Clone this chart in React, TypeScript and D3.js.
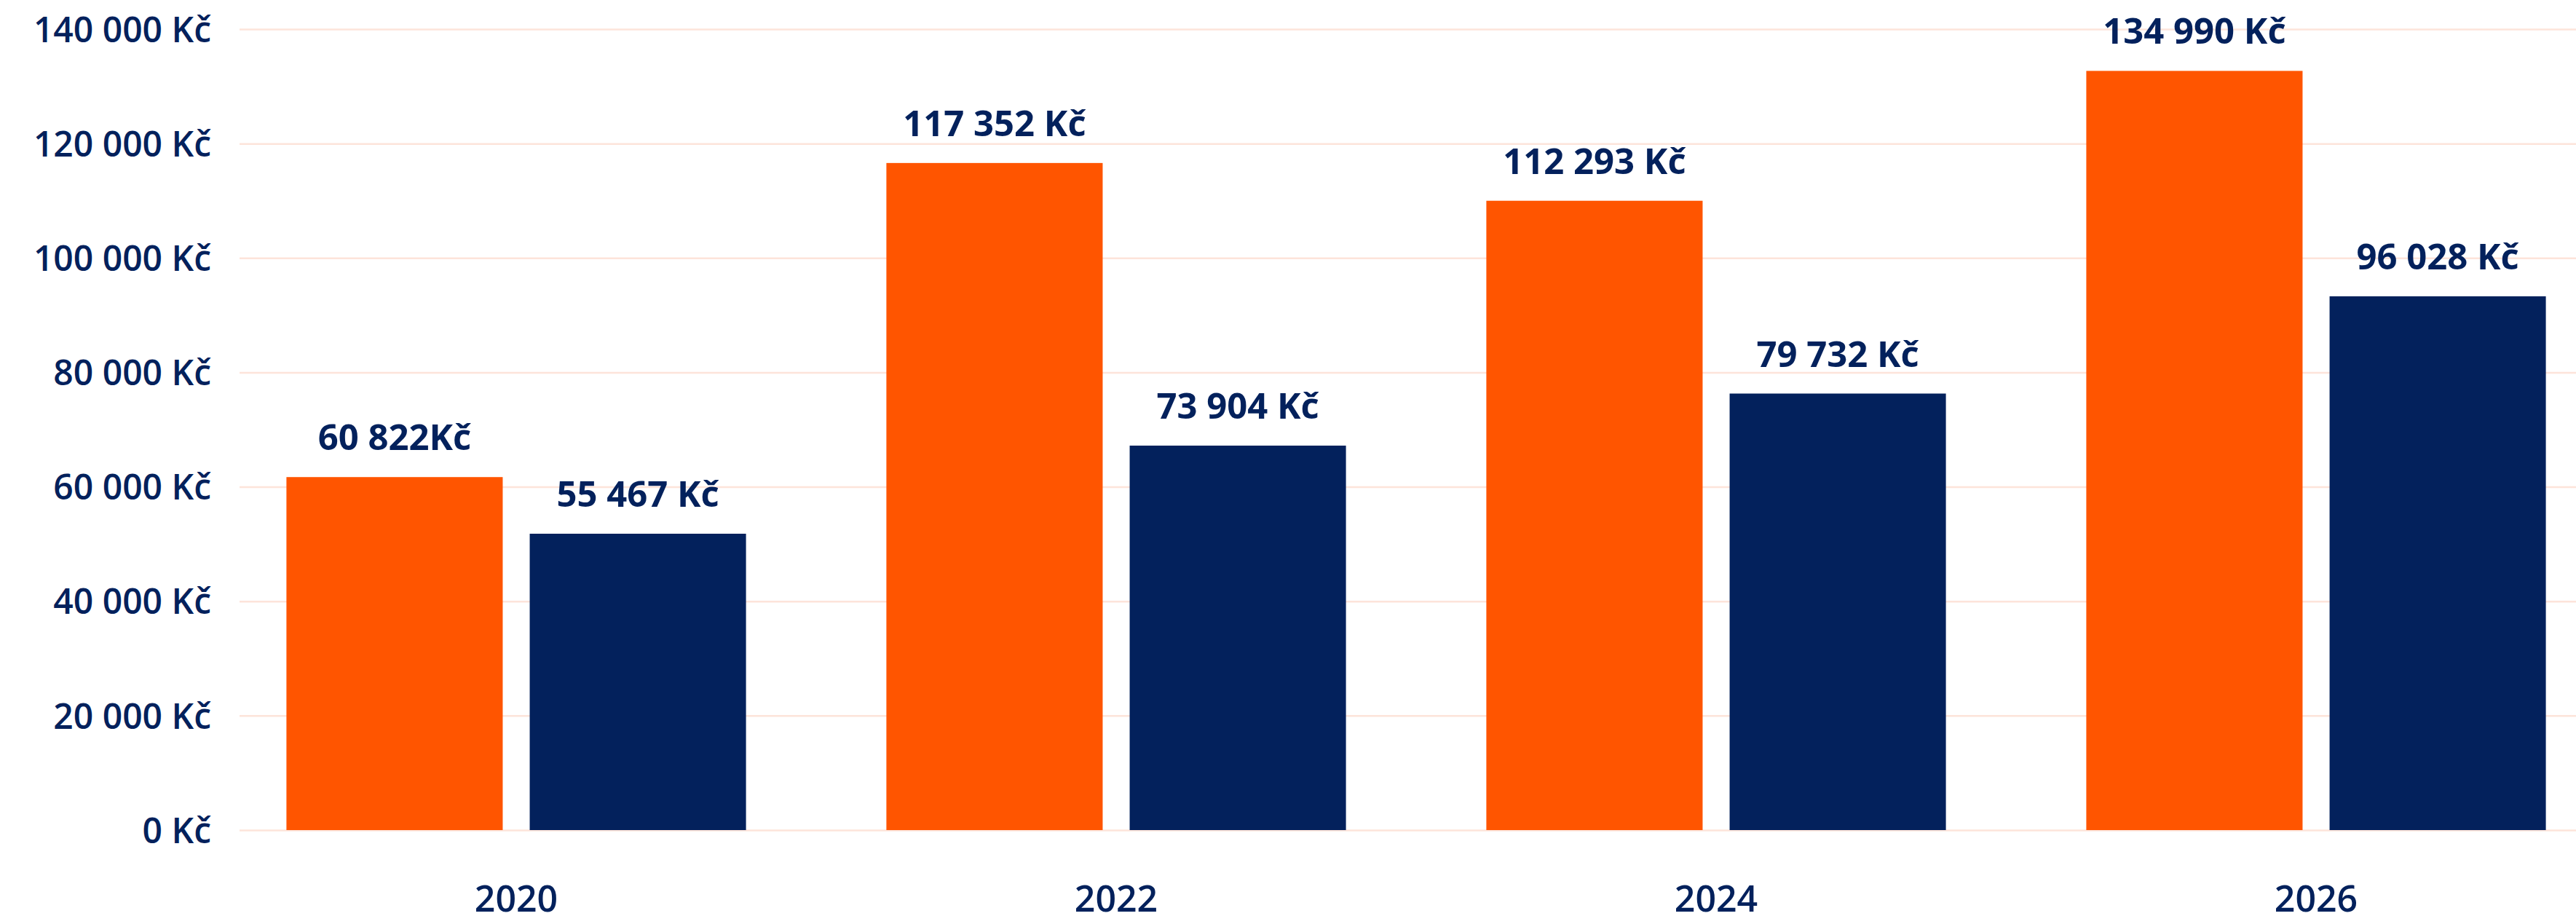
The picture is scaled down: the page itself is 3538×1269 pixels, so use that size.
import React, { useRef, useEffect } from "react";
import { select, scaleBand, scaleLinear, axisLeft } from "d3";

const years = ["2020", "2022", "2024", "2026"];
const series = ["orange", "navy"];
// bar heights as drawn in the picture
const orangeValues = [61700, 116600, 110000, 132700];
const navyValues = [51800, 67200, 76300, 93300];
// labels as printed above the bars
const orangeLabels = ["60 822Kč", "117 352 Kč", "112 293 Kč", "134 990 Kč"];
const navyLabels = ["55 467 Kč", "73 904 Kč", "79 732 Kč", "96 028 Kč"];
const yTicks = [0, 20000, 40000, 60000, 80000, 100000, 120000, 140000];
const yTickLabels = [
  "0 Kč",
  "20 000 Kč",
  "40 000 Kč",
  "60 000 Kč",
  "80 000 Kč",
  "100 000 Kč",
  "120 000 Kč",
  "140 000 Kč",
];

const W = 3538;
const H = 1269;
const TEXT = "#03215c";
const COLORS = { orange: "#ff5500", navy: "#03215c" };
const FONT = "'Open Sans', sans-serif";

const App = () => {
  const svgRef = useRef(null);

  useEffect(() => {
    const svg = select(svgRef.current);
    svg.selectAll("*").remove();

    const yScale = scaleLinear().domain([0, 140000]).range([1140, 40]);
    const x0 = scaleBand()
      .domain(years)
      .range([297, 3593])
      .paddingInner(0.234)
      .paddingOuter(0.117);
    const x1 = scaleBand()
      .domain(series)
      .range([0, x0.bandwidth()])
      .paddingInner(0.111);

    // grid + tick labels
    const yAxis = axisLeft(yScale)
      .tickValues(yTicks)
      .tickSize(-(W - 329))
      .tickPadding(39)
      .tickFormat((d, i) => yTickLabels[i]);
    const gy = svg
      .append("g")
      .attr("transform", "translate(329,0)")
      .call(yAxis);
    gy.select(".domain").remove();
    gy.selectAll(".tick line")
      .attr("stroke", "#fde4da")
      .attr("stroke-width", 2.5);
    gy.selectAll(".tick text")
      .attr("fill", TEXT)
      .attr("font-family", FONT)
      .attr("font-weight", 600)
      .attr("font-size", 48)
      .attr("dy", "0.36em");

    const rows = years.map((year, i) => ({
      year,
      orange: orangeValues[i],
      navy: navyValues[i],
      orangeLabel: orangeLabels[i],
      navyLabel: navyLabels[i],
    }));

    const groups = svg
      .selectAll(".group")
      .data(rows)
      .join("g")
      .attr("class", "group")
      .attr("transform", (d) => `translate(${x0(d.year)},0)`);

    groups
      .selectAll("rect")
      .data((d) => series.map((key) => ({ key, value: d[key] })))
      .join("rect")
      .attr("x", (d) => x1(d.key))
      .attr("width", x1.bandwidth())
      .attr("y", (d) => yScale(d.value))
      .attr("height", (d) => yScale(0) - yScale(d.value))
      .attr("fill", (d) => COLORS[d.key]);

    groups
      .selectAll(".value")
      .data((d) =>
        series.map((key) => ({ key, value: d[key], label: d[key + "Label"] }))
      )
      .join("text")
      .attr("class", "value")
      .attr("x", (d) => x1(d.key) + x1.bandwidth() / 2)
      .attr("y", (d) => yScale(d.value) - 37)
      .attr("text-anchor", "middle")
      .attr("fill", TEXT)
      .attr("font-family", FONT)
      .attr("font-weight", 700)
      .attr("font-size", 49)
      .text((d) => d.label);

    // year labels
    svg
      .selectAll(".year")
      .data(years)
      .join("text")
      .attr("class", "year")
      .attr("x", (d) => x0(d) + x0.bandwidth() / 2)
      .attr("y", 1252)
      .attr("text-anchor", "middle")
      .attr("fill", TEXT)
      .attr("font-family", FONT)
      .attr("font-weight", 600)
      .attr("font-size", 50)
      .text((d) => d);
  }, []);

  return (
    <svg
      ref={svgRef}
      width={W}
      height={H}
      style={{ position: "absolute", left: 0, top: 0, background: "#fff" }}
    />
  );
};

export default App;
